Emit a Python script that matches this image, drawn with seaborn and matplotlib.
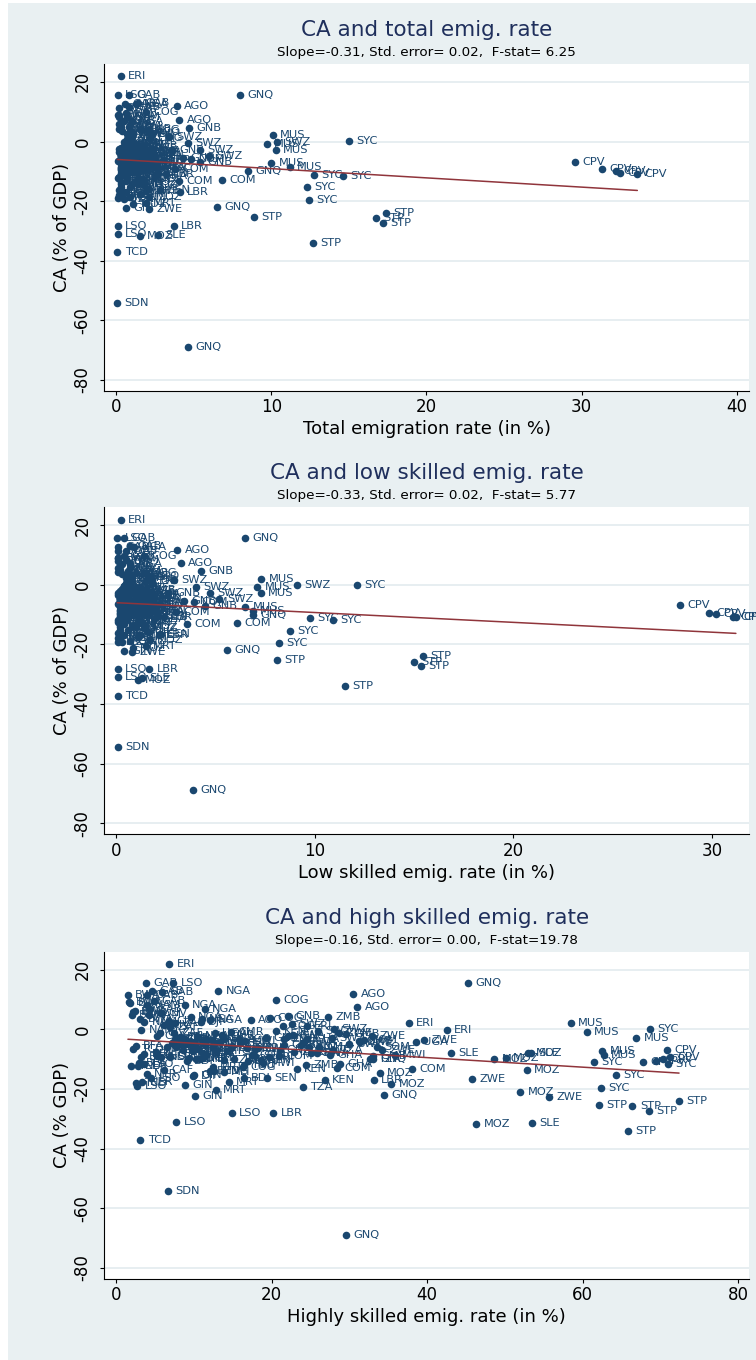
import numpy as np
import pandas as pd
import matplotlib
matplotlib.use("Agg")
import matplotlib.pyplot as plt
from matplotlib.patches import Rectangle
import seaborn as sns

# ---------------- data (country-year observations) ----------------
country = [
    "ERI", "LSO", "GAB", "GAB", "GAB", "GAB", "GNQ", "AGO", "AGO", "GNB", "GNB",
    "MUS", "MUS", "MUS", "MUS", "MUS", "SWZ",
    "SYC", "SYC", "SYC", "SYC", "SYC",
    "CPV", "CPV", "CPV", "CPV", "CPV",
    "COM", "COM", "GNQ", "GNQ", "LBR", "LBR",
    "STP", "STP", "STP", "STP", "STP",
    "LSO", "LSO", "MOZ", "SLE", "TCD", "SDN", "GNQ",
    "MOZ", "ZWE", "MOZ", "ZWE", "SLE", "MOZ", "SLE", "MOZ", "MOZ",
    "ERI", "ZMB", "NER", "NER", "GIN", "TZA", "MWI", "ZWE", "ERI", "KEN",
    "MDG", "BDI", "MRT", "NGA", "NGA", "NGA", "NGA", "BWA", "BWA",
    "BEN", "BEN", "BEN", "BEN", "BFA", "BFA", "BFA", "BFA", "BDI", "BDI", "BDI",
    "BWA", "BWA", "BWA", "BWA", "BWA", "CAF", "CAF", "CAF",
    "CMR", "CMR", "CMR", "CMR", "CIV", "CIV", "CIV", "CIV",
    "COG", "COG", "COG", "COG", "DJI", "DJI", "DJI",
    "ETH", "ETH", "ETH", "ETH", "GHA", "GHA", "GHA", "GHA",
    "GIN", "GIN", "GIN", "GMB", "GMB", "GMB", "KEN", "KEN", "KEN", "KEN",
    "LBR", "LBR", "MDG", "MDG", "MDG", "MLI", "MLI", "MLI", "MLI",
    "MRT", "MRT", "MRT", "MWI", "MWI", "MWI", "NAM", "NAM", "NAM",
    "NER", "NER", "NGA", "NGA", "NGA", "RWA", "RWA", "RWA",
    "SEN", "SEN", "SEN", "SEN", "SOM", "SOM", "TGO", "TGO", "TGO",
    "TZA", "TZA", "TZA", "TZA", "TZA", "UGA", "UGA", "UGA", "UGA",
    "ZAF", "ZAF", "ZAF", "ZAF", "ZMB", "ZMB", "ZMB",
    "ZWE", "ZWE", "ZWE", "ZWE", "SWZ", "SWZ", "SWZ", "SWZ", "ERI",
    "GNB", "GNB", "COM", "COM", "LSO", "LSO", "LSO", "LSO",
    "TCD", "TCD", "TCD", "SDN", "SDN", "MOZ", "MOZ", "ERI", "ERI",
    "GAB", "GAB", "AGO", "AGO", "CAF", "GIN", "NER", "BEN", "MLI",
    "SEN", "KEN", "DJI", "MRT", "CIV", "NAM", "COG", "ZAF",
]

ca = [
    21.9, 15.6, 15.6, 12.6, 12.9, 11.5, 15.6, 11.8, 7.3, 4.5, -7.0,
    2.1, -0.9, -2.9, -7.3, -8.7, 0.0,
    0.1, -11.1, -11.7, -15.4, -19.6,
    -6.9, -9.3, -9.9, -10.7, -10.9,
    -12.9, -13.3, -10.0, -22.0, -16.9, -28.2,
    -25.3, -34.1, -24.0, -25.8, -27.3,
    -28.2, -31.0, -31.8, -31.3, -37.2, -54.3, -68.8,
    -21.1, -22.7, -13.7, -16.7, -7.9, -8.1, -8.1, -10.0, -9.7,
    -0.3, 4.1, -17.6, -12.3, -22.3, -19.3, -8.7, -2.2, 2.2, -13.2,
    -14.1, -16.4, -17.6, 12.7, 6.9, 3.4, 3.0, 9.0, 5.8,
    -6.5, -4.2, -7.8, -3.1, -9.4, -11.2, -8.3, -5.6, -5.2, -3.4, -10.6,
    8.9, 6.2, 3.5, 11.4, 4.8, -4.5, -2.8, -6.1,
    -3.6, -1.9, -5.3, -0.8, -1.2, 1.4, -2.4, 2.8,
    -8.5, 3.9, -12.6, 1.2, -3.4, -7.2, 2.6,
    -4.8, -6.9, -2.6, -9.8, -5.9, -8.7, -3.2, -11.5,
    -7.3, -4.9, -15.3, -3.8, -9.1, -1.6, -2.3, -5.4, -0.6, -8.1,
    -6.3, -10.8, -4.6, -7.1, -9.7, -8.2, -6.4, -10.1, -4.1,
    -9.5, -12.8, -5.1, -6.7, -11.3, -3.9, 2.4, 4.7, -0.4,
    -7.6, -9.2, 4.2, -2.1, 8.1, -4.3, -7.9, -1.8,
    -6.2, -8.8, -4.5, -10.4, -5.8, -3.7, -9.9, -12.1, -7.4,
    -8.6, -4.9, -10.3, -10.0, -7.0, -3.1, -5.7, -1.4, -4.4,
    -1.3, -3.6, 0.7, -5.1, -3.1, -11.9, -7.7,
    -4.3, -6.8, -1.1, -3.7, 1.6, -0.6, -2.8, -4.9, 1.2,
    -2.9, -5.4, -5.9, -9.1, -11.8, -16.2, -8.9, -19.1,
    -6.6, -12.4, -17.9, -9.3, -6.0, -14.6, -18.5, -6.2, -9.4,
    6.9, 9.6, -3.4, 3.1, -13.5, -18.7, -15.1, -13.9, -14.2,
    -16.4, -16.9, -15.8, -20.5, 5.6, 8.2, 9.8, 2.2,
]

emig_total = [
    0.3, 0.1, 0.82, 0.57, 1.38, 0.84, 8.0, 3.9, 4.06, 4.7, 5.4,
    10.1, 9.7, 10.3, 10.0, 11.2, 10.35,
    15.0, 12.75, 14.6, 12.3, 12.4,
    29.6, 31.35, 32.2, 32.5, 33.6,
    6.8, 4.05, 8.5, 6.5, 4.1, 3.7,
    8.9, 12.7, 17.4, 16.75, 17.2,
    0.1, 0.1, 1.5, 2.67, 0.07, 0.07, 4.6,
    1.1, 2.1, 1.8, 1.9, 1.6, 1.3, 1.8, 1.2, 1.4,
    0.5, 1.5, 0.3, 0.2, 0.6, 0.5, 0.7, 1.8, 1.0, 0.6,
    0.3, 0.3, 1.5, 1.3, 1.0, 0.9, 1.1, 0.1, 0.2,
    0.9, 0.8, 1.0, 0.7, 0.4, 0.5, 0.4, 0.3, 0.3, 0.2, 0.3,
    0.2, 0.3, 0.4, 0.2, 0.3, 0.3, 0.4, 0.4,
    0.6, 0.7, 0.5, 0.8, 0.9, 1.0, 0.8, 1.1,
    1.8, 2.0, 1.7, 2.2, 2.4, 2.6, 2.3,
    0.3, 0.3, 0.2, 0.4, 2.3, 2.4, 2.1, 2.5,
    0.8, 0.7, 0.9, 1.9, 2.0, 1.8, 1.2, 1.3, 1.1, 1.4,
    3.0, 3.2, 0.3, 0.4, 0.3, 1.1, 1.2, 1.0, 1.3,
    1.6, 1.7, 1.5, 0.4, 0.5, 0.4, 0.7, 0.8, 0.6,
    0.3, 0.4, 0.2, 0.3, 0.2, 0.6, 0.7, 0.5,
    2.5, 2.6, 2.4, 2.7, 1.6, 1.5, 1.3, 1.4, 1.2,
    0.3, 0.3, 0.4, 0.6, 0.5, 0.5, 0.6, 0.5, 1.6,
    0.8, 0.9, 0.7, 1.0, 0.6, 0.7, 0.6,
    1.5, 1.7, 1.4, 2.0, 3.4, 4.6, 5.4, 6.0, 2.2,
    3.6, 4.3, 4.8, 3.8, 0.2, 0.2, 0.3, 0.1,
    0.1, 0.1, 0.2, 0.3, 0.4, 1.8, 2.1, 0.9, 1.0,
    0.5, 0.6, 1.9, 2.1, 0.3, 0.9, 0.3, 1.1, 1.4,
    2.8, 0.6, 2.1, 1.9, 0.9, 0.7, 1.9, 0.8,
]

emig_low = [
    0.24, 0.05, 0.39, 0.1, 0.69, 0.5, 6.5, 3.07, 3.24, 4.26, 4.47,
    7.3, 7.1, 7.27, 6.5, 6.87, 9.08,
    12.1, 9.75, 10.9, 8.75, 8.2,
    28.4, 29.85, 30.2, 31.07, 31.2,
    6.06, 3.55, 6.9, 5.56, 2.17, 1.66,
    8.08, 11.5, 15.46, 15.0, 15.34,
    0.07, 0.07, 1.08, 1.28, 0.07, 0.07, 3.86,
    0.84, 0.8, 1.4, 1.2, 1.0, 0.9, 1.2, 0.8, 1.0,
    0.4, 1.0, 0.2, 0.15, 0.4, 0.3, 0.5, 1.3, 0.7, 0.4,
    0.2, 0.2, 1.1, 0.9, 0.7, 0.6, 0.8, 0.1, 0.1,
    0.6, 0.5, 0.7, 0.5, 0.3, 0.3, 0.3, 0.2, 0.2, 0.1, 0.2,
    0.1, 0.2, 0.3, 0.1, 0.2, 0.2, 0.3, 0.2,
    0.4, 0.5, 0.4, 0.5, 0.7, 0.8, 0.6, 0.8,
    1.3, 1.4, 1.2, 1.5, 1.9, 2.0, 1.7,
    0.2, 0.2, 0.1, 0.3, 1.7, 1.8, 1.6, 1.9,
    0.6, 0.5, 0.6, 1.4, 1.5, 1.3, 0.8, 0.9, 0.7, 1.0,
    2.2, 2.4, 0.2, 0.3, 0.2, 0.8, 0.9, 0.7, 1.0,
    1.2, 1.3, 1.1, 0.3, 0.3, 0.2, 0.5, 0.6, 0.4,
    0.2, 0.3, 0.1, 0.2, 0.1, 0.4, 0.5, 0.3,
    1.9, 2.0, 1.8, 2.1, 1.1, 1.0, 1.0, 1.1, 0.9,
    0.2, 0.2, 0.3, 0.4, 0.4, 0.3, 0.4, 0.3, 1.2,
    0.5, 0.6, 0.5, 0.7, 0.4, 0.5, 0.4,
    1.1, 1.3, 1.0, 1.5, 2.9, 4.0, 4.7, 5.2, 1.8,
    2.6, 3.4, 3.9, 3.0, 0.1, 0.1, 0.2, 0.1,
    0.1, 0.1, 0.1, 0.2, 0.3, 1.4, 1.7, 0.7, 0.8,
    0.3, 0.4, 1.5, 1.6, 0.2, 0.7, 0.2, 0.8, 1.0,
    2.2, 0.4, 1.6, 1.5, 0.7, 0.5, 1.4, 0.6,
]

emig_high = [
    6.8, 7.3, 3.86, 5.84, 4.6, 3.9, 45.3, 30.5, 31.0, 22.1, 21.0,
    58.5, 60.5, 66.9, 62.5, 62.7, 28.0,
    68.7, 61.4, 71.0, 64.3, 62.4,
    70.9, 71.3, 70.3, 69.4, 67.8,
    28.4, 38.1, 33.0, 34.5, 33.1, 20.2,
    62.1, 65.8, 72.4, 66.4, 68.5,
    14.85, 7.7, 46.3, 53.5, 3.1, 6.65, 29.6,
    52.0, 55.7, 52.8, 45.8, 43.0, 53.0, 53.3, 48.6, 50.1,
    42.5, 27.3, 3.35, 2.75, 10.1, 24.0, 35.8, 32.9, 37.6, 23.2,
    12.6, 16.4, 14.5, 13.1, 11.4, 11.0, 12.1, 1.6, 2.2,
    10.5, 9.8, 11.2, 8.9, 3.2, 2.9, 3.6, 2.5, 8.4, 7.6, 9.1,
    1.8, 2.4, 3.1, 1.5, 2.0, 7.2, 8.1, 6.5,
    12.3, 13.6, 11.4, 14.7, 5.6, 6.1, 5.2, 6.8,
    17.5, 19.8, 16.3, 21.4, 11.5, 12.8, 10.9,
    8.9, 9.7, 8.2, 10.3, 26.1, 27.5, 24.6, 28.8,
    9.9, 9.2, 10.0, 31.2, 33.0, 29.6, 22.1, 23.8, 20.6, 25.0,
    14.8, 16.9, 7.8, 8.6, 9.4, 11.6, 12.5, 10.8, 13.3,
    11.2, 12.4, 10.1, 17.8, 18.9, 16.5, 3.6, 4.2, 3.2,
    5.1, 5.8, 9.6, 10.4, 8.8, 24.2, 25.8, 22.7,
    16.8, 17.9, 15.9, 18.6, 33.5, 31.9, 15.2, 16.4, 14.3,
    11.5, 12.6, 13.9, 32.7, 27.9, 13.8, 14.9, 12.7, 38.5,
    7.4, 8.0, 6.9, 8.6, 21.6, 24.4, 22.9,
    31.4, 34.2, 28.7, 39.6, 22.6, 25.9, 27.8, 30.0, 24.5,
    19.3, 21.6, 24.8, 20.9, 3.6, 4.5, 5.3, 2.7,
    2.2, 1.9, 2.6, 6.9, 7.7, 33.9, 35.4, 18.2, 19.6,
    4.3, 4.9, 15.8, 17.3, 6.2, 8.8, 3.9, 12.0, 13.8,
    19.4, 26.8, 9.9, 12.8, 5.8, 4.0, 20.5, 7.6,
]

# ---------------- panel texts / scales ----------------
titles = ["CA and total emig. rate", "CA and low skilled emig. rate",
          "CA and high skilled emig. rate"]
subtitles = ["Slope=-0.31, Std. error= 0.02,  F-stat= 6.25",
             "Slope=-0.33, Std. error= 0.02,  F-stat= 5.77",
             "Slope=-0.16, Std. error= 0.00,  F-stat=19.78"]
xlabels = ["Total emigration rate (in %)", "Low skilled emig. rate (in %)",
           "Highly skilled emig. rate (in %)"]
ylabels = ["CA (% of GDP)", "CA (% of GDP)", "CA (% GDP)"]
xticks_list = [[0, 10, 20, 30, 40], [0, 10, 20, 30], [0, 20, 40, 60, 80]]
xlims = [(-0.77, 40.8), (-0.6, 31.86), (-1.54, 81.4)]
yticks = [-80, -60, -40, -20, 0, 20]
ylim = (-83.7, 26.0)
fit_slope = [-0.31, -0.33, -0.16]
fit_intercept = [-6.0, -6.0, -3.1]

xseries = [emig_total, emig_low, emig_high]

# ---------------- style ----------------
NAVY = "#1A476F"
MAROON = "#90353B"
BG = "#E9F0F2"
GRID = "#E0E9ED"
TITLE_C = "#1F2F5C"

sns.set_style("white")
plt.rcParams["font.family"] = ["DejaVu Sans"]
plt.rcParams["axes.unicode_minus"] = False

W, H = 756, 1360
fig = plt.figure(figsize=(W / 100, H / 100), dpi=100)
fig.patch.set_facecolor("white")
fig.patches.append(Rectangle((8 / W, 0), 1 - 8 / W, 1 - 3 / H,
                             transform=fig.transFigure, facecolor=BG,
                             edgecolor="none", zorder=-10))

left_px, right_px = 104.3, 749.0
tops = [64.0, 507.3, 951.7]
bottoms = [391.0, 834.3, 1279.0]

for i in range(3):
    t, b = tops[i], bottoms[i]
    ax = fig.add_axes([left_px / W, 1 - b / H, (right_px - left_px) / W, (b - t) / H])
    ax.set_facecolor("white")

    df = pd.DataFrame({"x": xseries[i], "ca": ca, "country": country})
    sns.scatterplot(data=df, x="x", y="ca", ax=ax, color=NAVY, s=30,
                    linewidth=0, zorder=3)
    for xv, yv, c in zip(df["x"], df["ca"], df["country"]):
        ax.annotate(c, (xv, yv), xytext=(5.3, 0), textcoords="offset points",
                    ha="left", va="center", fontsize=8.2, color=NAVY,
                    zorder=4, annotation_clip=False)

    xr = np.array([df["x"].min(), df["x"].max()])
    fit = pd.DataFrame({"x": xr, "y": fit_intercept[i] + fit_slope[i] * xr})
    sns.lineplot(data=fit, x="x", y="y", ax=ax, color=MAROON, lw=1.1, zorder=5)

    ax.set_xlim(*xlims[i])
    ax.set_ylim(*ylim)
    ax.set_xticks(xticks_list[i])
    ax.set_yticks(yticks)
    ax.grid(True, axis="y", color=GRID, lw=1.1)
    ax.grid(False, axis="x")
    ax.set_axisbelow(True)
    for s in ["top", "right"]:
        ax.spines[s].set_visible(False)
    for s in ["left", "bottom"]:
        ax.spines[s].set_color("black")
        ax.spines[s].set_linewidth(0.8)
    ax.tick_params(axis="both", which="major", direction="out", length=3.2,
                   width=0.8, color="black", labelsize=12, labelcolor="black",
                   bottom=True, left=True)
    ax.tick_params(axis="x", pad=2)
    ax.tick_params(axis="y", pad=6)
    for lab in ax.get_yticklabels():
        lab.set_rotation(90)
        lab.set_va("center")
    ax.set_xlabel(xlabels[i], fontsize=13, labelpad=3, color="black")
    ax.set_ylabel(ylabels[i], fontsize=13, labelpad=2, color="black")

    cx = (left_px + right_px) / 2 / W
    fig.text(cx, 1 - (t - 34) / H, titles[i], ha="center", va="center",
             fontsize=15.5, color=TITLE_C)
    fig.text(cx, 1 - (t - 11.5) / H, subtitles[i], ha="center", va="center",
             fontsize=9.7, color="black")

fig.savefig("out.png", dpi=100, facecolor=fig.get_facecolor())
